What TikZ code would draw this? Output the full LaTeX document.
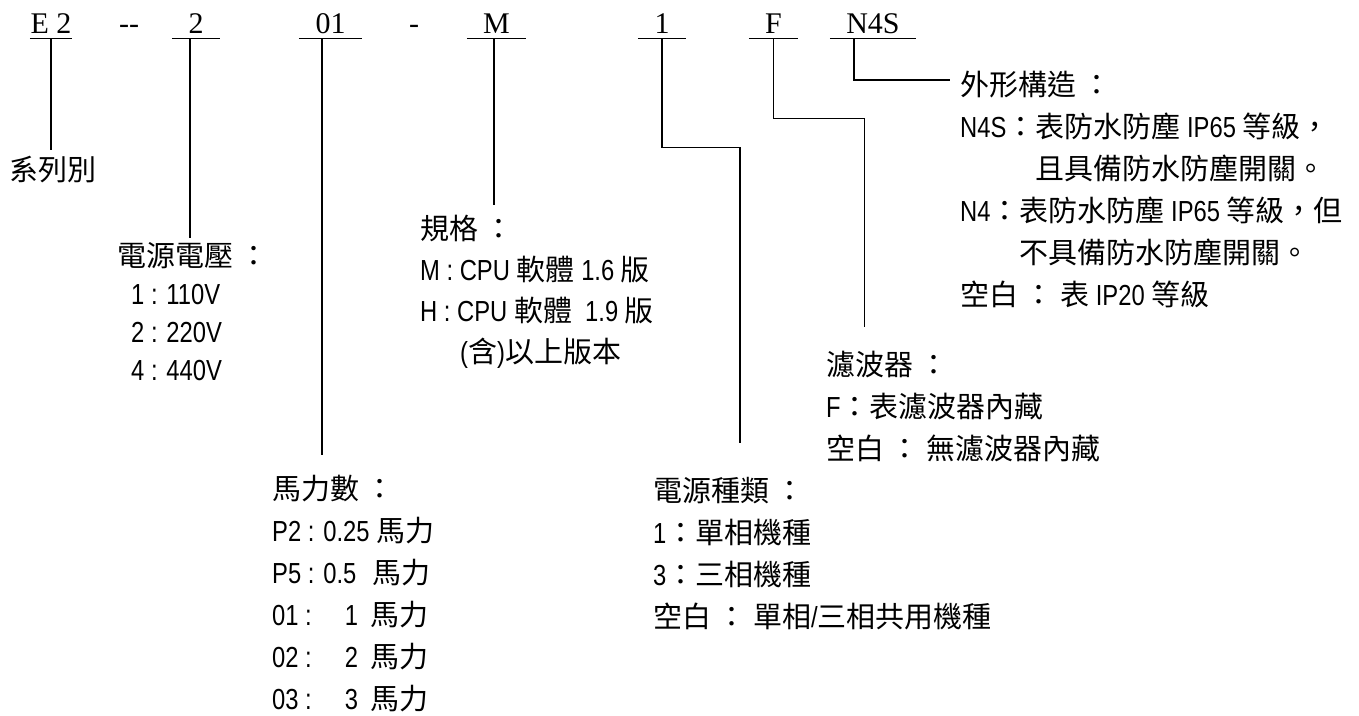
\documentclass[tikz,border=0pt]{standalone}
\usepackage{fontspec}
\newfontfamily\cjkfont{Noto Sans CJK TC}
\newfontfamily\latfont[FakeStretch=0.82]{Liberation Sans}
\newfontfamily\codefont{Liberation Serif}
\usepackage{tikz}
\tikzset{
	>=latex,
	code/.style={font=\codefont\fontsize{30}{36}\selectfont, inner xsep=0pt, inner ysep=5pt, anchor=base},
	desc/.style={font=\cjkfont\fontsize{29}{42}\selectfont, align=left, inner sep=0pt, anchor=north west},
	wire/.style={line width=1.3pt}
}

\begin{document}
\begin{tikzpicture}[x=1pt,y=-1pt]
	%\draw[help lines] (0,0) grid (1359,715);
	\useasboundingbox (0,0) rectangle (1359,715);

	% model code
	\node[code, minimum width=42pt] (cSer) at (51,33) {E 2};
	\node[code] (sepA) at (129,33) {\mbox{-}\mbox{-}};
	\node[code, minimum width=48pt] (cVolt) at (196,33) {2};
	\node[code, minimum width=63pt] (cHp) at (330.5,33) {01};
	\node[code] (sepB) at (414,33) {-};
	\node[code, minimum width=59pt] (cSpec) at (496.5,33) {M};
	\node[code, minimum width=48pt] (cPhase) at (662,33) {1};
	\node[code, minimum width=49pt] (cFilt) at (773.5,33) {F};
	\node[code, minimum width=86pt] (cEncl) at (873,33) {N4S};

	\foreach \n in {cSer,cVolt,cHp,cSpec,cPhase,cFilt,cEncl}{
		\draw[wire] (\n.south west) -- (\n.south east);
	}

	% descriptions
	\node[desc, anchor=north] (dSer) at (53,155.5) {系列別};
	\node[desc] (dVolt) at (117,242.5) {電源電壓 ：\\[-4pt]
		\hspace*{14pt}{\latfont 1 : 110V}\\[-4pt]
		\hspace*{14pt}{\latfont 2 : 220V}\\[-4pt]
		\hspace*{14pt}{\latfont 4 : 440V}};
	\node[desc] (dHp) at (272,474.5) {馬力數 ：\\
		{\latfont P2 : 0.25 }馬力\\
		{\latfont P5 : 0.5}\hspace{16pt}馬力\\
		{\latfont 01 :}\hspace{33pt}{\latfont 1}\hspace{12pt}馬力\\
		{\latfont 02 :}\hspace{33pt}{\latfont 2}\hspace{12pt}馬力\\
		{\latfont 03 :}\hspace{33pt}{\latfont 3}\hspace{12pt}馬力};
	\node[desc] (dSpec) at (420,214.5) {規格 ：\\[-1pt]
		{\latfont M : CPU }軟體{\latfont\ 1.6 }版\\[-1pt]
		{\latfont H : CPU }軟體{\latfont\ \ 1.9 }版\\[-1pt]
		\hspace*{40pt}{\latfont (}含{\latfont )}以上版本};
	\node[desc] (dPhase) at (653,477.5) {電源種類 ：\\
		{\latfont 1}：單相機種\\
		{\latfont 3}：三相機種\\
		空白 ： 單相{\latfont /}三相共用機種};
	\node[desc] (dFilt) at (826,350.5) {濾波器 ：\\
		{\latfont F}：表濾波器內藏\\
		空白 ： 無濾波器內藏};
	\node[desc] (dEncl) at (960,70.5) {外形構造 ：\\
		{\latfont N4S}：表防水防塵{\latfont\ IP65 }等級，\\
		\phantom{{\latfont N4S}：}且具備防水防塵開關。\\
		{\latfont N4}：表防水防塵{\latfont\ IP65 }等級，但\\
		\phantom{{\latfont N4}：}不具備防水防塵開關。\\
		空白 ： 表{\latfont\ IP20 }等級};

	% connectors
	\draw[wire] (cSer.south) -- ([yshift=5.5pt]cSer.south |- dSer.north);
	\draw[wire] ([xshift=-6pt]cVolt.south) -- ([xshift=-6pt,yshift=4.5pt]cVolt.south |- dVolt.north);
	\draw[wire] ([xshift=-8.5pt]cHp.south) -- ([xshift=-8.5pt,yshift=19.5pt]cHp.south |- dHp.north);
	\draw[wire] ([xshift=-2.5pt]cSpec.south) -- ([xshift=-2.5pt,yshift=9.5pt]cSpec.south |- dSpec.north);
	\draw[wire] (cPhase.south) |- ++(78,109) coordinate (kPhase) -- ([yshift=34.5pt]kPhase |- dPhase.north);
	\draw[wire] (cFilt.south) |- ++(91,80) coordinate (kFilt) -- ([yshift=23.5pt]kFilt |- dFilt.north);
	\draw[wire] ([xshift=-19pt]cEncl.south) |- ([xshift=-10pt,yshift=-9.5pt]dEncl.north west);

\end{tikzpicture}
\end{document}
